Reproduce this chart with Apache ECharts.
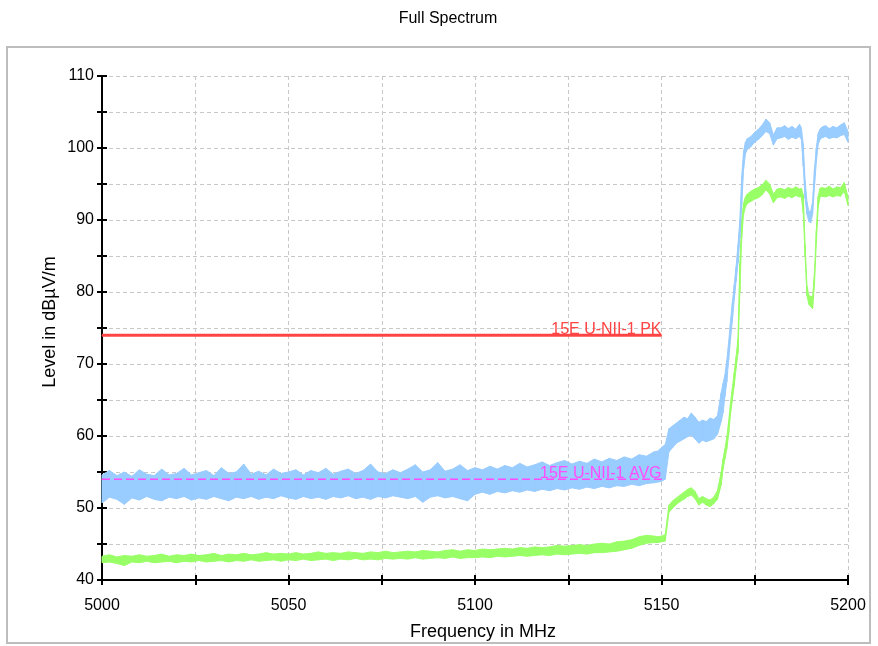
<!DOCTYPE html>
<html>
<head>
<meta charset="utf-8">
<script src="https://cdn.jsdelivr.net/npm/echarts@6/dist/echarts.min.js"></script>
<style>
  html, body { margin: 0; padding: 0; background: #fff; }
  #chart { width: 878px; height: 646px; }
</style>
</head>
<body>
<div id="chart"></div>
<script>
// frequency samples (MHz) shared by both traces
const freqs = [
  5000, 5002, 5004, 5006, 5008, 5010, 5012, 5014, 5016, 5018,
  5020, 5022, 5024, 5026, 5028, 5030, 5032, 5034, 5036, 5038,
  5040, 5042, 5044, 5046, 5048, 5050, 5052, 5054, 5056, 5058,
  5060, 5062, 5064, 5066, 5068, 5070, 5072, 5074, 5076, 5078,
  5080, 5082, 5084, 5086, 5088, 5090, 5092, 5094, 5096, 5098,
  5100, 5102, 5104, 5106, 5108, 5110, 5112, 5114, 5116, 5118,
  5120, 5122, 5124, 5126, 5128, 5130, 5132, 5134, 5136, 5138,
  5140, 5142, 5144, 5146, 5148,
  5149, 5150, 5151, 5152, 5153, 5154, 5155, 5156, 5157, 5158,
  5159, 5160, 5161, 5162, 5163, 5164, 5165, 5166,
  5166.5, 5167, 5167.5, 5168, 5168.5, 5169, 5169.5, 5170, 5170.5, 5171,
  5171.5, 5172, 5172.5, 5173,
  5174, 5175, 5176, 5177, 5178, 5179, 5180, 5181, 5182, 5183,
  5184, 5185, 5186, 5187,
  5187.5, 5188, 5188.5, 5189, 5189.5, 5190, 5190.5, 5191, 5191.5, 5192,
  5192.5, 5193,
  5194, 5195, 5196, 5197, 5198, 5199, 5200
];

// peak trace (blue) - upper / lower edge of the noise band
const peakHi = [
  54.6, 55.2, 54.5, 55.0, 54.4, 55.3, 54.7, 54.5, 55.4, 54.6,
  54.8, 55.5, 54.6, 54.9, 55.2, 54.5, 55.6, 54.8, 55.0, 56.1,
  54.7, 55.1, 54.6, 55.4, 54.8, 55.0, 55.3, 54.6, 55.2, 54.9,
  55.5, 54.7, 55.1, 55.4, 54.8, 55.2, 56.1, 55.0, 54.8, 55.3,
  54.9, 55.4, 56.0, 55.0, 55.3, 56.3, 55.1, 55.4, 56.0, 55.2,
  55.6, 55.3, 55.8, 55.4, 55.9, 55.6, 56.2, 55.7, 56.0, 56.4,
  55.9, 56.3, 56.6, 56.1, 56.5, 56.2, 56.8, 56.4, 56.9, 56.6,
  57.1, 56.8, 57.4, 57.2, 57.8,
  57.9, 58.4, 58.8, 61.0, 61.4, 61.8, 62.2, 62.6, 62.4, 63.2,
  62.6, 61.9, 62.2, 62.0, 62.5, 62.3, 62.8, 66.0,
  67.3, 68.5, 70.5, 73.0, 76.0, 78.5, 81.0, 83.5, 86.5, 90.0,
  96.0, 99.5, 100.8, 101.3,
  101.6, 102.2, 102.6, 103.2, 104.0, 103.5, 101.8, 102.8, 102.8, 103.1,
  102.7, 103.0, 102.6, 103.3,
  102.8, 100.5, 95.5, 92.5, 91.2, 91.2, 92.5, 97.0, 100.0, 102.0,
  102.6, 102.9,
  103.1, 102.7, 103.0, 102.8, 103.2, 103.5, 102.3
];
const peakLo = [
  50.7, 51.5, 51.2, 50.5, 51.4, 51.1, 51.6, 51.2, 51.0, 51.5,
  51.3, 51.6, 51.1, 51.4, 51.2, 51.6, 51.3, 51.0, 51.5, 51.3,
  51.6, 51.2, 51.5, 51.3, 51.7, 51.4, 51.2, 51.6, 51.3, 51.5,
  51.2, 51.6, 51.4, 51.7, 51.3, 51.5, 51.2, 51.6, 51.4, 51.7,
  51.5, 51.3, 51.6, 50.8, 51.5, 51.7, 51.4, 51.6, 51.3, 51.0,
  51.9, 52.2, 51.9, 52.3, 52.1, 52.4, 52.2, 52.5, 52.3, 52.6,
  52.4, 52.7, 52.5, 52.8, 52.6, 52.9, 52.7, 53.0, 52.8, 53.1,
  53.0, 53.3, 53.1, 53.4, 53.5,
  53.6, 53.7, 54.0, 57.8, 58.4, 59.0, 59.3, 59.6, 59.9, 60.1,
  59.6, 59.0, 59.4, 59.2, 59.4, 59.6, 60.2, 62.0,
  63.2, 65.5, 67.5, 70.5, 73.5, 76.0, 79.0, 81.5, 84.0, 87.5,
  92.0, 97.0, 99.2, 99.8,
  100.2, 100.8, 101.2, 101.7, 102.3, 102.0, 100.4, 101.3, 101.4, 101.6,
  101.2, 101.5, 101.3, 101.6,
  101.2, 97.5, 93.0, 90.8, 89.8, 89.6, 90.8, 94.5, 98.0, 100.5,
  101.2, 101.4,
  101.6, 101.3, 101.5, 101.4, 101.7, 101.9, 100.8
];

// average trace (green)
const avgHi = [
  43.3, 43.5, 43.2, 43.4, 43.3, 43.5, 43.3, 43.4, 43.6, 43.3,
  43.5, 43.4, 43.6, 43.4, 43.5, 43.7, 43.4, 43.6, 43.5, 43.7,
  43.5, 43.6, 43.8, 43.6, 43.7, 43.6, 43.8, 43.6, 43.7, 43.9,
  43.7, 43.8, 43.7, 43.9, 43.8, 43.7, 43.9, 43.8, 44.0, 43.8,
  43.9, 44.0, 43.9, 44.1, 44.0, 43.9, 44.1, 44.2, 44.0, 44.2,
  44.1, 44.3, 44.2, 44.3, 44.4, 44.3, 44.5, 44.4, 44.6, 44.5,
  44.6, 44.8, 44.7, 44.8, 44.9, 44.8, 45.0, 45.1, 45.0, 45.3,
  45.4, 45.6, 46.0, 46.2, 46.1,
  46.0, 46.1, 46.3, 50.4, 51.0, 51.4, 51.8, 52.2, 52.6, 52.8,
  52.3, 51.3, 51.6, 51.3, 51.1, 51.5, 52.4, 55.0,
  56.8, 58.2, 59.8, 62.0, 64.6, 66.6, 68.8, 71.0, 73.5, 84.0,
  90.0, 92.3, 93.2, 93.6,
  94.0, 94.3, 94.5, 94.9, 95.5, 95.0, 93.6, 94.3, 94.4, 94.2,
  94.5, 94.3, 94.6, 94.3,
  94.4, 93.5, 86.5, 80.8, 79.5, 79.4, 79.3, 82.5, 88.5, 93.3,
  94.4, 94.5,
  94.4, 94.7, 94.3, 94.6, 94.5, 95.2, 93.2
];
const avgLo = [
  42.4, 42.5, 42.3, 42.0, 42.5, 42.4, 42.6, 42.4, 42.5, 42.6,
  42.4, 42.6, 42.5, 42.7, 42.5, 42.6, 42.7, 42.5, 42.7, 42.6,
  42.8, 42.6, 42.7, 42.8, 42.6, 42.8, 42.7, 42.9, 42.7, 42.8,
  42.9, 42.7, 42.9, 42.8, 43.0, 42.8, 42.9, 42.8, 43.0, 42.9,
  43.0, 42.9, 43.1, 42.9, 43.0, 43.1, 43.0, 43.2, 43.0, 43.1,
  43.1, 43.2, 43.1, 43.3, 43.2, 43.3, 43.4, 43.3, 43.4, 43.5,
  43.4, 43.6, 43.5, 43.6, 43.7, 43.6, 43.8, 43.8, 43.9, 44.0,
  44.2, 44.4, 44.8, 45.1, 45.2,
  45.2, 45.3, 45.4, 49.4, 50.0, 50.5, 50.9, 51.2, 51.6, 51.8,
  51.3, 50.4, 50.8, 50.4, 50.2, 50.6, 51.2, 53.2,
  55.4, 56.8, 58.2, 60.2, 63.0, 65.0, 67.0, 69.4, 71.5, 80.0,
  87.5, 90.8, 91.8, 92.3,
  92.6, 92.9, 93.1, 93.5, 94.2, 93.6, 92.4, 93.1, 93.2, 93.0,
  93.3, 93.1, 93.4, 93.2,
  93.2, 91.0, 85.0, 79.5, 78.3, 78.0, 77.7, 81.0, 86.8, 91.8,
  93.2, 93.3,
  93.2, 93.4, 93.2, 93.4, 93.3, 94.0, 92.0
];

// limit lines
const limitFreqs = [5000, 5150];
const pkLimit = [74, 74];
const avgLimit = [54, 54];
const pkLabel = '15E U-NII-1 PK';
const avgLabel = '15E U-NII-1 AVG';

const FONT = "'Liberation Sans', Arial, sans-serif";

function bandSeries(name, lo, hi, color) {
  const rows = freqs.map((f, i) => [f, lo[i], hi[i]]);
  return {
    type: 'custom',
    name: name,
    data: rows,
    encode: { x: 0, y: [1, 2] },
    silent: true,
    renderItem: function (params, api) {
      const i = params.dataIndex;
      if (i >= rows.length - 1) return null;
      const nx = rows[i + 1];
      const pts = [
        api.coord([api.value(0), api.value(2)]),
        api.coord([nx[0], nx[2]]),
        api.coord([nx[0], nx[1]]),
        api.coord([api.value(0), api.value(1)])
      ];
      return {
        type: 'polygon',
        shape: { points: pts },
        style: { fill: color, stroke: color, lineWidth: 1 }
      };
    }
  };
}

function limitSeries(values, color, width, type, text, axisIdx) {
  const data = limitFreqs.map((f, i) => [f, values[i]]);
  data[data.length - 1] = {
    value: data[data.length - 1],
    label: {
      show: true,
      position: 'top',
      align: 'right',
      distance: -3,
      formatter: text,
      color: color,
      fontFamily: FONT,
      fontSize: 16
    }
  };
  return {
    type: 'line',
    xAxisIndex: axisIdx,
    yAxisIndex: axisIdx,
    data: data,
    symbol: 'circle',
    symbolSize: 1,
    itemStyle: { color: color },
    lineStyle: { color: color, width: width, type: type },
    silent: true,
    z: 5
  };
}

const chart = echarts.init(document.getElementById('chart'), null, { renderer: 'canvas' });

const tickOut = { show: true, inside: false, length: 5, lineStyle: { color: '#000', width: 2 } };
const tickIn = { show: true, inside: true, length: 5, lineStyle: { color: '#000', width: 2 } };
const axisLine = { show: true, onZero: false, lineStyle: { color: '#000', width: 2 } };
const dashGrid = { show: true, lineStyle: { color: '#c8c8c8', width: 1, type: [4, 3] } };

chart.setOption({
  animation: false,
  backgroundColor: '#fff',
  title: {
    text: 'Full Spectrum',
    left: 443,
    textAlign: 'center',
    top: 6,
    textStyle: { fontFamily: FONT, fontSize: 16, fontWeight: 'normal', color: '#000' }
  },
  graphic: [{
    type: 'rect',
    shape: { x: 7, y: 47, width: 863, height: 596 },
    style: { fill: 'none', stroke: '#bdbdbd', lineWidth: 2 },
    silent: true,
    z: -1
  }],
  grid: { left: 102, right: 30, top: 76, bottom: 66 },
  xAxis: [{
    type: 'value',
    min: 5000, max: 5200, interval: 25,
    name: 'Frequency in MHz',
    nameLocation: 'middle',
    nameGap: 43,
    nameMoveOverlap: false,
    nameTextStyle: { fontFamily: FONT, fontSize: 18, color: '#000', padding: [0, 0, 0, 16] },
    axisLine: axisLine,
    axisTick: tickOut,
    axisLabel: {
      margin: 18,
      fontFamily: FONT, fontSize: 16, color: '#000',
      formatter: v => (v % 50 === 0 ? String(v) : '')
    },
    splitLine: dashGrid
  }, {
    type: 'value',
    position: 'bottom',
    offset: 0,
    min: 5000, max: 5200, interval: 25,
    axisLine: axisLine,
    axisTick: tickIn,
    axisLabel: { show: false },
    splitLine: { show: false }
  }],
  yAxis: [{
    type: 'value',
    min: 40, max: 110, interval: 5,
    name: 'Level in dBµV/m',
    nameLocation: 'middle',
    nameGap: 43,
    nameMoveOverlap: false,
    nameTextStyle: { fontFamily: FONT, fontSize: 18, color: '#000', padding: [0, 0, 0, 12] },
    axisLine: axisLine,
    axisTick: tickOut,
    axisLabel: {
      margin: 8,
      fontFamily: FONT, fontSize: 16, color: '#000',
      formatter: v => (v % 10 === 0 ? String(v) : '')
    },
    splitLine: dashGrid
  }, {
    type: 'value',
    position: 'left',
    offset: 0,
    min: 40, max: 110, interval: 5,
    axisLine: axisLine,
    axisTick: tickIn,
    axisLabel: { show: false },
    splitLine: { show: false }
  }],
  series: [
    bandSeries('Average', avgLo, avgHi, '#99ff66'),
    bandSeries('Peak', peakLo, peakHi, '#99ccff'),
    limitSeries(avgLimit, '#ff4dff', 1.5, [8, 4], avgLabel, 0),
    limitSeries(pkLimit, '#ff4444', 3, 'solid', pkLabel, 1)
  ]
});
</script>
</body>
</html>
